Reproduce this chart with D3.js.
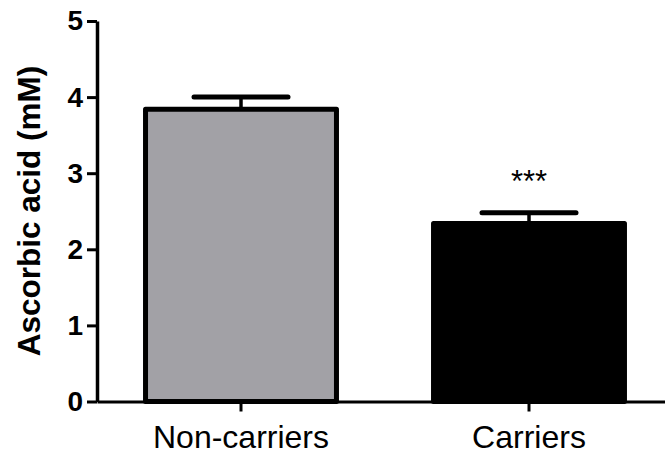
<!DOCTYPE html>
<html>
<head>
<meta charset="utf-8">
<script src="https://cdn.jsdelivr.net/npm/d3@7"></script>
<style>
  html, body { margin: 0; padding: 0; background: #fff; }
  svg { display: block; }
  text { font-family: "Liberation Sans", Arial, Helvetica, sans-serif; fill: #000; }
</style>
</head>
<body>
<svg id="chart" width="665" height="459"></svg>
<script>
// Group names, means and SEM of ascorbic acid (mM)
const categories = ["Non-carriers", "Carriers"];
const means = [3.84, 2.34];
const sems = [0.16, 0.14];
const significance = ["", "***"];
const yTicks = [0, 1, 2, 3, 4, 5];
const barFills = ["#a2a1a6", "#000000"];

const svg = d3.select("#chart");
const plot = { left: 97, right: 673, top: 21, bottom: 401.5 };

const x = d3.scaleBand()
  .domain(categories)
  .range([plot.left, plot.right])
  .paddingInner(0.337)
  .paddingOuter(0.1685);

const y = d3.scaleLinear()
  .domain([0, 5])
  .range([plot.bottom, plot.top]);

const data = categories.map((c, i) => ({
  name: c, mean: means[i], sem: sems[i], sig: significance[i], fill: barFills[i]
}));

// Bars
svg.append("g").selectAll("rect")
  .data(data)
  .join("rect")
  .attr("x", d => x(d.name))
  .attr("width", x.bandwidth())
  .attr("y", d => y(d.mean))
  .attr("height", d => y(0) - y(d.mean))
  .attr("fill", d => d.fill)
  .attr("stroke", "#000")
  .attr("stroke-width", 5)
  .attr("stroke-linejoin", "round");

// Error bars (upper SEM only)
const err = svg.append("g").selectAll("g")
  .data(data)
  .join("g");

err.append("line")
  .attr("x1", d => x(d.name) + x.bandwidth() / 2)
  .attr("x2", d => x(d.name) + x.bandwidth() / 2)
  .attr("y1", d => y(d.mean))
  .attr("y2", d => y(d.mean + d.sem))
  .attr("stroke", "#000")
  .attr("stroke-width", 3.5);

err.append("line")
  .attr("x1", d => x(d.name) + x.bandwidth() / 2 - 47)
  .attr("x2", d => x(d.name) + x.bandwidth() / 2 + 47)
  .attr("y1", d => y(d.mean + d.sem))
  .attr("y2", d => y(d.mean + d.sem))
  .attr("stroke", "#000")
  .attr("stroke-width", 5)
  .attr("stroke-linecap", "round");

// Significance marks
svg.append("g").selectAll("text")
  .data(data.filter(d => d.sig))
  .join("text")
  .attr("x", d => x(d.name) + x.bandwidth() / 2)
  .attr("y", d => y(d.mean + d.sem) - 21)
  .attr("text-anchor", "middle")
  .style("font-size", "31px")
  .text(d => d.sig);

// Y axis
const yAxis = svg.append("g")
  .attr("transform", `translate(${plot.left},0)`)
  .call(d3.axisLeft(y).tickValues(yTicks).tickFormat(d3.format("d")).tickSize(10).tickSizeOuter(0).tickPadding(4));
yAxis.select(".domain").attr("stroke", "#000").attr("stroke-width", 3.5);
yAxis.selectAll(".tick line").attr("stroke", "#000").attr("stroke-width", 3);
yAxis.selectAll(".tick text")
  .style("font-size", "28px")
  .style("font-weight", "bold")
  .attr("fill", "#000");

// X axis
const xAxis = svg.append("g")
  .attr("transform", `translate(0,${plot.bottom})`)
  .call(d3.axisBottom(x).tickSize(10).tickSizeOuter(0).tickPadding(14));
xAxis.select(".domain").attr("stroke", "#000").attr("stroke-width", 3);
xAxis.selectAll(".tick line").attr("stroke", "#000").attr("stroke-width", 3);
xAxis.selectAll(".tick text")
  .style("font-size", "32px")
  .attr("fill", "#000");

// Y axis title
svg.append("text")
  .attr("transform", `translate(40,211) rotate(-90)`)
  .attr("text-anchor", "middle")
  .style("font-size", "31.5px")
  .style("font-weight", "bold")
  .text("Ascorbic acid (mM)");
</script>
</body>
</html>
